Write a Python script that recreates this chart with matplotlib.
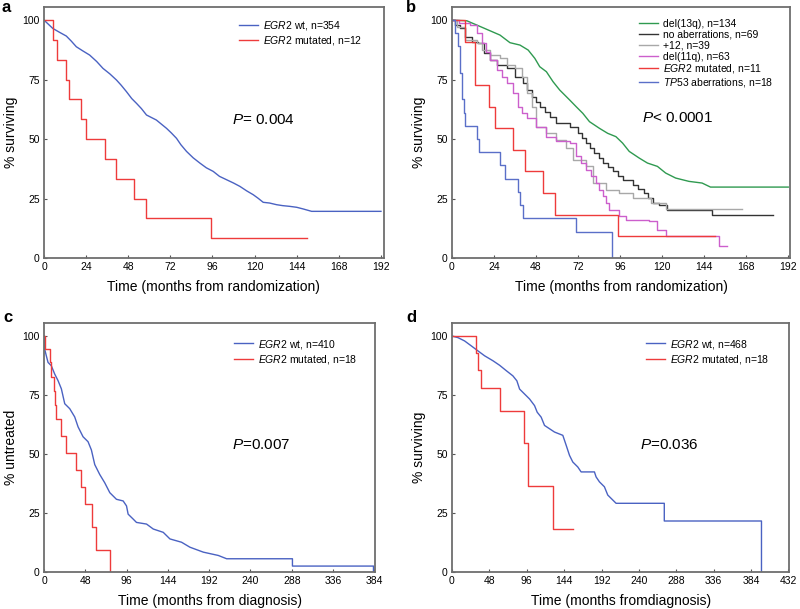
import matplotlib
matplotlib.use('Agg')
import matplotlib.pyplot as plt

plt.rcParams['font.family'] = ['Liberation Sans', 'DejaVu Sans']
plt.rcParams['mathtext.fontset'] = 'custom'
plt.rcParams['mathtext.rm'] = 'Liberation Sans'
plt.rcParams['mathtext.it'] = 'Liberation Sans:italic'

# panel a: overall survival by EGR2 status
a_wt_t = [0, 5, 9, 12.7, 15.5, 18.4, 22, 26, 30, 33.6, 37.5, 41.3, 44, 47, 50, 52.7, 55.5, 58.4,
          64, 69.8, 72.5, 75.5, 78, 81.2, 85, 88.8, 92.5, 96.4, 100, 104, 108, 111.6, 115.5,
          119.2, 122, 124.9, 128.5, 132.5, 136, 140, 144, 147.7, 152.5, 192]
a_wt_s = [100, 96.5, 94.8, 93.3, 91.2, 88.8, 87.1, 85.3, 82.6, 79.7, 77.4, 74.8, 72.6, 69.9, 67, 65,
          62.8, 60.1, 58, 54.5, 52.6, 50.3, 47.6, 44.8, 42.1, 39.9, 37.9, 36.4, 34.3, 32.9, 31.5,
          30.1, 28.2, 26.6, 25.1, 23.4, 23.1, 22.4, 22, 21.7, 21.3, 20.6, 19.6, 19.6]
a_mut_t = [0, 5.1, 7.6, 12.7, 14, 21, 24.1, 34.6, 41.3, 51.3, 58.4, 94.9, 150]
a_mut_s = [100, 91.7, 83.3, 75, 66.7, 58.3, 50, 41.7, 33.3, 25, 16.7, 8.3, 8.3]

# panel b: survival by cytogenetic group
b_13q_t = [0, 8.5, 14.2, 20.8, 27.4, 33.1, 38.8, 43.5, 47.3, 50.1, 53.9, 57.7, 61.5, 67.2, 70.9,
           74.7, 78.5, 84.2, 88.9, 93.6, 97.4, 101.2, 106.9, 111.6, 117.3, 122, 127.7, 135.3,
           142.8, 147.6, 192]
b_13q_s = [100, 99.7, 97.9, 95.8, 93.7, 90.5, 89.5, 87.4, 83.9, 80.4, 78.3, 74.1, 70.6, 66.4, 63.6,
           60.8, 57.3, 54.5, 52.4, 51, 48.3, 44.8, 42, 39.9, 38.5, 35.7, 33.6, 32.2,
           31.5, 29.8, 29.8]
b_none_t = [0, 1.9, 4.7, 7.6, 11.4, 15.1, 18, 21.8, 25.5, 31.2, 35.9, 40.7, 43, 45.4, 47.8, 50.1,
            53, 55.8, 59.6, 67.2, 71.9, 74.2, 76.6, 79, 81.3, 83.7, 86.1, 89, 91.8, 94.6, 97.4,
            103.1, 106.4, 109.7, 112, 114.5, 118.2, 123, 148.5, 183.5]
b_none_s = [100, 97.9, 96.5, 93, 90.9, 90.2, 86, 83.2, 81.1, 79.7, 76.2, 73.4, 70.6, 67.8, 65.7, 63.6,
            61.5, 59.4, 56.6, 55.2, 52.4, 50.3, 48.3, 46.2, 44.1, 42, 39.9, 38.1, 36.4, 34.6, 32.9,
            30.8, 29, 27.3, 25.2, 23.1, 22.4, 20.3, 18.2, 18.2]
b_tri12_t = [0, 2.8, 7.6, 14.2, 17, 21.8, 27.4, 31.2, 35.9, 39.7, 42.6, 45.4, 48.2, 53.9, 59.6,
             65.3, 69.1, 76.6, 80.4, 88, 95.5, 103.1, 113.4, 122, 165.5]
b_tri12_s = [100, 97.2, 91.6, 90.2, 87.4, 85.3, 83.9, 81.1, 79.7, 76.2, 69.2, 63.6, 55.2, 52.4, 49.7,
             46.1, 41.3, 38.5, 31.5, 28.7, 27.3, 25.2, 23.1, 20.6, 20.6]
b_11q_t = [0, 3.8, 10.4, 14.2, 17, 19.4, 21.8, 25.5, 28.4, 31.2, 35, 37.8, 40.2, 42.6, 48.2, 53.9,
           59.6, 67.2, 70.9, 73.8, 76.6, 79.5, 82.3, 84.2, 86.1, 88, 89.9, 95.5, 99.3, 112.6,
           117.3, 122, 152.7, 157]
b_11q_s = [100, 98.6, 97.9, 94.4, 90.2, 86.7, 83.2, 79, 76.2, 73.4, 69.2, 63.6, 61.1, 58.7, 55.2, 51,
           49, 48.3, 42.7, 39.9, 37.1, 34.3, 31.5, 28.7, 25.9, 23.1, 20.3, 17.5, 16.1, 15.4,
           11.9, 9.4, 4.9, 4.9]
b_egr2_t = [0, 7.6, 13.2, 21.4, 24.6, 35, 41.6, 52, 58.6, 94.6, 150]
b_egr2_s = [100, 90.9, 72.7, 63.6, 54.5, 45.5, 36.4, 27.3, 18.2, 9.1, 9.1]
b_tp53_t = [0, 1.9, 3.2, 4.3, 5.5, 6.6, 7.6, 14.2, 15.5, 27.4, 30.3, 37.8, 38.8, 40.7, 70.9, 91.2]
b_tp53_s = [100, 94.4, 88.9, 77.8, 66.7, 61.1, 55.6, 50, 44.4, 38.9, 33.3, 27.8, 22.2, 16.7, 11.1, 0]

# panel c: time to first treatment
c_wt_t = [0, 0.8, 2.7, 4.7, 8.5, 12.4, 16.3, 20.2, 24.1, 29.9, 35.7, 39.6, 45.4, 51.2, 55.1, 59,
          64.8, 70.6, 76.5, 84.2, 92, 95.9, 97.8, 103.7, 107.5, 119.2, 127, 138.6, 146.4, 159.9,
          169.6, 185.2, 202.6, 212.3, 288.8, 288.8, 383, 383]
c_wt_s = [100, 94.4, 91.6, 88.8, 87.4, 83.9, 81.1, 77.6, 71.3, 69.2, 65.7, 61.5, 57.3, 55.2, 51.7, 45.5,
          41.3, 37.8, 33.6, 30.8, 30.1, 28, 24.5, 22.4, 21, 20.3, 18.2, 16.8, 14, 12.6,
          10.5, 8.4, 7, 5.6, 5.6, 2.5, 2.5, 0]
c_mut_t = [0, 1, 6.6, 8.5, 11.3, 12.8, 14.4, 20.2, 26, 36.9, 43.5, 47.4, 56.3, 61, 76.5]
c_mut_s = [100, 94.4, 88.9, 82.6, 76.5, 70.6, 64.8, 57.8, 50.6, 43.2, 36, 29, 19, 9.5, 0]

# panel d: survival from diagnosis
d_wt_t = [0, 7.7, 16.2, 24.8, 33.3, 41.9, 52.6, 61.1, 69.7, 78.2, 83.3, 86.8, 93.2, 99.6, 106,
          109.4, 114.5, 118.8, 125.2, 131.6, 142.3, 146.6, 150.9, 155.1, 161.5, 165.8, 182.9, 185,
          189.3, 195.7, 200, 210.7, 272.6, 272.6, 397.4, 397.4]
d_wt_s = [100, 99.3, 97.9, 95.8, 93.7, 91.6, 89.5, 87.6, 85.3, 83.1, 81, 77.5, 75.4, 73.3, 70.5,
          67.7, 65.6, 62.1, 60.7, 59.3, 57.9, 53.7, 49.4, 46.6, 44.5, 42.4, 42.4, 40.3,
          38.2, 36.1, 32.6, 29.1, 29.1, 21.6, 21.6, 0]
d_mut_t = [0, 31.2, 33.3, 37.6, 62, 91.9, 97.4, 130.3, 155.1]
d_mut_s = [100, 92.7, 85.7, 77.8, 68.2, 54.6, 36.4, 18.2, 18.2]

BLUE = '#4a62c2'
RED = '#ee3b3b'


def style_ax(ax, xmax, xticks, xlabel, ylabel):
    """Frame, ticks and labels shared by all four panels."""
    ax.set_xlim(0, xmax)
    ax.set_ylim(0, 105.5)
    ax.set_xticks(xticks)
    ax.set_yticks([0, 25, 50, 75, 100])
    ax.tick_params(direction='in', length=2, width=0.8, labelsize=7.5, pad=3, color='#555555')
    for sp in ax.spines.values():
        sp.set_color('#6e6e6e')
        sp.set_linewidth(1.3)
    ax.set_xlabel(xlabel, fontsize=10, labelpad=6)
    ax.set_ylabel(ylabel, fontsize=10, labelpad=3)


fig = plt.figure(figsize=(8, 6.09), dpi=100)
ax_a = fig.add_axes([0.055, 0.5764, 0.4245, 0.4121])
ax_b = fig.add_axes([0.565, 0.5764, 0.4225, 0.4121])
ax_c = fig.add_axes([0.055, 0.0608, 0.414, 0.4088])
ax_d = fig.add_axes([0.565, 0.0608, 0.4215, 0.4088])

# a
ax_a.plot(a_wt_t, a_wt_s, color=BLUE, lw=1, label=r'$\it{EGR2}$ wt, n=354')
ax_a.step(a_mut_t, a_mut_s, where='post', color=RED, lw=1, label=r'$\it{EGR2}$ mutated, n=12')
style_ax(ax_a, 193.5, range(0, 193, 24), 'Time (months from randomization)', '% surviving')
ax_a.text(107, 58, r'$\it{P}$= 0.004', fontsize=11, va='center')

# b
ax_b.plot(b_13q_t, b_13q_s, color='#2f9a50', lw=1, label='del(13q), n=134')
ax_b.step(b_none_t, b_none_s, where='post', color='#333333', lw=1, label='no aberrations, n=69')
ax_b.step(b_tri12_t, b_tri12_s, where='post', color='#a8a8a8', lw=1, label='+12, n=39')
ax_b.step(b_11q_t, b_11q_s, where='post', color='#cc5fcc', lw=1, label='del(11q), n=63')
ax_b.step(b_egr2_t, b_egr2_s, where='post', color=RED, lw=1, label=r'$\it{EGR2}$ mutated, n=11')
ax_b.step(b_tp53_t, b_tp53_s, where='post', color='#5a6fc8', lw=1, label=r'$\it{TP53}$ aberrations, n=18')
style_ax(ax_b, 193, range(0, 193, 24), 'Time (months from randomization)', '% surviving')
ax_b.text(108.6, 58.8, r'$\it{P}$< 0.0001', fontsize=11, va='center')

# c
ax_c.plot(c_wt_t, c_wt_s, color=BLUE, lw=1, label=r'$\it{EGR2}$ wt, n=410')
ax_c.step(c_mut_t, c_mut_s, where='post', color=RED, lw=1, label=r'$\it{EGR2}$ mutated, n=18')
style_ax(ax_c, 385, range(0, 385, 48), 'Time (months from diagnosis)', '% untreated')
ax_c.text(219, 54, r'$\it{P}$=0.007', fontsize=11, va='center')

# d
ax_d.plot(d_wt_t, d_wt_s, color=BLUE, lw=1, label=r'$\it{EGR2}$ wt, n=468')
ax_d.step(d_mut_t, d_mut_s, where='post', color=RED, lw=1, label=r'$\it{EGR2}$ mutated, n=18')
style_ax(ax_d, 433, range(0, 433, 48), 'Time (months fromdiagnosis)', '% surviving')
ax_d.text(242, 54, r'$\it{P}$=0.036', fontsize=11, va='center')

for ax, anchor, spacing in [(ax_a, (0.55, 0.985), 0.2), (ax_b, (0.53, 0.985), 0.08),
                            (ax_c, (0.55, 0.975), 0.2), (ax_d, (0.55, 0.975), 0.2)]:
    ax.legend(loc='upper left', bbox_to_anchor=anchor, frameon=False, fontsize=7.5,
              handlelength=1.8, handletextpad=0.5, labelspacing=spacing, borderaxespad=0.4)

for label, x, y in [('a', 0.002, 0.988), ('b', 0.508, 0.988), ('c', 0.004, 0.478), ('d', 0.508, 0.478)]:
    fig.text(x, y, label, fontsize=12, fontweight='bold', va='center')

fig.savefig('out.png', dpi=100)
